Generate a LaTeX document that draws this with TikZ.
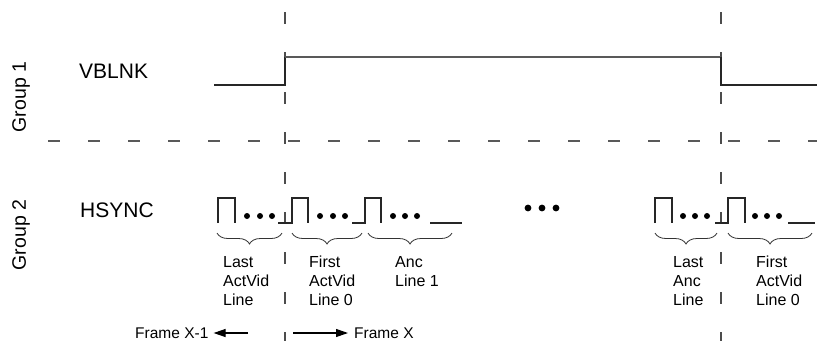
\documentclass[tikz,border=0pt]{standalone}
\usepackage{fontspec}
\setmainfont{Liberation Sans}
\usetikzlibrary{arrows.meta,decorations.pathreplacing}
\begin{document}
\begin{tikzpicture}[x=1pt,y=-1pt,
  wave/.style={line width=1.1pt,draw=black!85},
  highwave/.style={line width=1.3pt,draw=black!65},
  vdash/.style={line width=1.2pt,draw=black!70,dash pattern=on 11.5pt off 28.5pt},
  hdash/.style={line width=1.2pt,draw=black!65,dash pattern=on 11.5pt off 28.5pt},
  dotmark/.style={fill=black},
  brc/.style={decorate,decoration={brace,mirror,amplitude=11pt},line width=0.8pt,draw=black!80},
  sig/.style={font=\fontsize{21}{25}\selectfont,inner sep=0pt},
  grp/.style={font=\fontsize{19.5}{23}\selectfont,inner sep=0pt,rotate=90},
  lbl/.style={font=\fontsize{16}{19}\selectfont,inner sep=0pt,align=left,anchor=north west},
  frm/.style={font=\fontsize{15.5}{18}\selectfont,inner sep=0pt},
  arr/.style={line width=1.1pt,-{Triangle[length=12pt,width=8pt]}}]
\useasboundingbox (0,0) rectangle (817,341);

% dashed guide lines
\draw[hdash] (48,141) -- (817,141);
\coordinate (t1) at (285,12);
\coordinate (b1) at (285,341);
\coordinate (t2) at (721,12);
\coordinate (b2) at (721,341);
\draw[vdash] (t1) -- (b1);
\draw[vdash] (t2) -- (b2);

% group labels
\node[grp] (g1) at (21,97) {Group 1};
\node[grp] (g2) at (21,235) {Group 2};

% signal names
\node[sig,anchor=base west] (vblnk) at (79,78) {VBLNK};
\node[sig,anchor=base west] (hsync) at (80,217) {HSYNC};

% VBLNK waveform
\draw[wave] (214,85) -- (285,85) -- (285,57);
\draw[highwave] (285,57) -- (721,57);
\draw[wave] (721,57) -- (721,85) -- (817,85);

% HSYNC waveform, left part
\draw[wave] (218,223) -- (218,198) -- (235,198) -- (235,223);
\foreach \x in {247,260,272} \fill[dotmark] (\x,216) circle (3pt);
\draw[wave] (278,223) -- (292,223) -- (292,198) -- (308,198) -- (308,223);
\foreach \x in {320,333,345} \fill[dotmark] (\x,216) circle (3pt);
\draw[wave] (352,223) -- (365,223) -- (365,198) -- (381,198) -- (381,223);
\foreach \x in {393,405,417} \fill[dotmark] (\x,216) circle (3pt);
\draw[wave] (430,223) -- (462,223);

% middle ellipsis
\foreach \x in {528,542,556} \fill[dotmark] (\x,208) circle (3.4pt);

% HSYNC waveform, right part
\draw[wave] (655,223) -- (655,198) -- (672,198) -- (672,223);
\foreach \x in {683,695,707} \fill[dotmark] (\x,216) circle (3pt);
\draw[wave] (715,223) -- (728,223) -- (728,198) -- (745,198) -- (745,223);
\foreach \x in {755,767,779} \fill[dotmark] (\x,216) circle (3pt);
\draw[wave] (788,223) -- (815,223);

% braces
\draw[brc] (217,233) -- (282,233);
\draw[brc] (292,233) -- (362,233);
\draw[brc] (368,233) -- (452,233);
\draw[brc] (655,233) -- (717,233);
\draw[brc] (728,233) -- (812,233);

% brace labels
\node[lbl] (l1) at (223,256) {Last\\ActVid\\Line};
\node[lbl] (l2) at (309,256) {First\\ActVid\\Line 0};
\node[lbl] (l3) at (395,256) {Anc\\Line 1};
\node[lbl] (l4) at (673,256) {Last\\Anc\\Line};
\node[lbl] (l5) at (756,256) {First\\ActVid\\Line 0};

% frame arrows
\node[frm,anchor=base west] (fx1) at (135,338) {Frame X-1};
\node[frm,anchor=base west] (fx) at (354,338) {Frame X};
\coordinate (a1) at (248,333);
\coordinate (a2) at (293,333);
\draw[arr] (a1) -- ([xshift=5pt]fx1.east |- a1);
\draw[arr] (a2) -- ([xshift=-6pt]fx.west |- a2);
\end{tikzpicture}
\end{document}
